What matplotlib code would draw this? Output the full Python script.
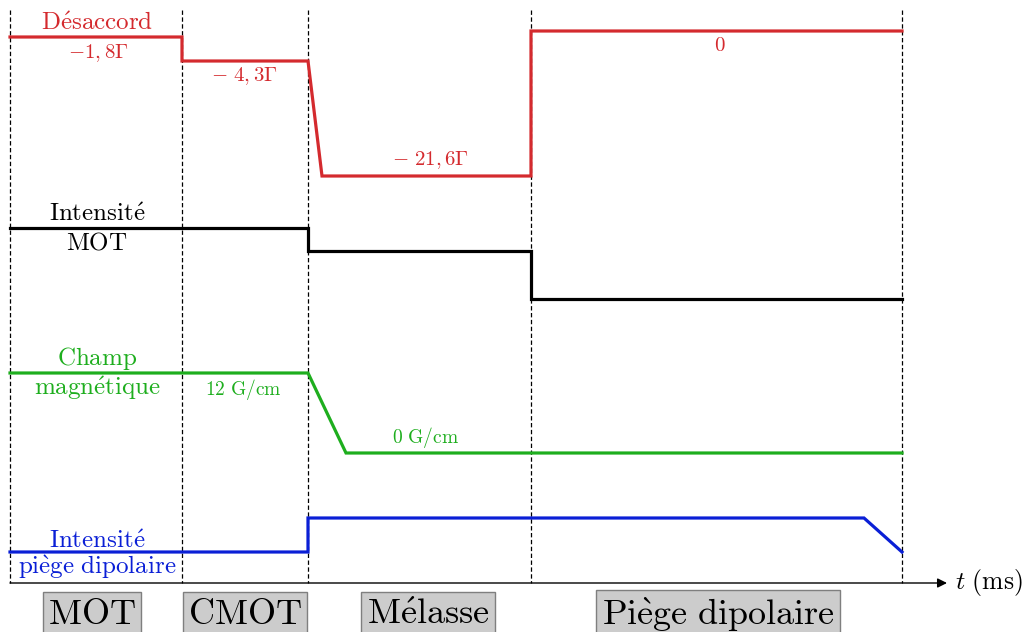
import matplotlib
matplotlib.use("Agg")
import matplotlib.pyplot as plt

plt.rcParams['mathtext.fontset'] = 'cm'

# Phase boundaries (time axis, schematic units)
phase_edges = [10, 182, 308, 531, 902]
phase_names = [r'$\mathrm{MOT}$', r'$\mathrm{CMOT}$', r'$\mathrm{M\acute{e}lasse}$',
               r'$\mathrm{Pi\grave{e}ge\ dipolaire}$']
phase_label_x = [92, 245, 428, 718]

# Traces: time breakpoints and levels (schematic vertical units, downward)
detuning_t = [10, 182, 182, 308, 322, 531, 531, 902]
detuning_y = [37, 37, 61, 61, 176, 176, 31, 31]
mot_int_t = [10, 308, 308, 531, 531, 902]
mot_int_y = [228, 228, 251, 251, 299, 299]
field_t = [10, 308, 346, 902]
field_y = [373, 373, 453, 453]
dip_t = [10, 308, 308, 864, 902]
dip_y = [552, 552, 518, 518, 552]

detuning_labels = [r'$-1,8\Gamma$', r'$-\ 4,3\Gamma$', r'$-\ 21,6\Gamma$', r'$0$']
field_labels = [r'$12\ \mathrm{G/cm}$', r'$0\ \mathrm{G/cm}$']

RED = '#d42a2e'
GREEN = '#1eae1e'
BLUE = '#0a1fd6'

fig = plt.figure(figsize=(10.26, 6.32), dpi=100)
ax = fig.add_axes([0, 0, 1, 1])
ax.set_xlim(0, 1026)
ax.set_ylim(632, 0)
ax.axis('off')

# dashed phase boundaries
for x in phase_edges:
    ax.plot([x, x], [10, 583], color='black', lw=0.9, ls=(0, (3.5, 2)), zorder=1)

# time axis
ax.annotate('', xy=(947, 583), xytext=(10, 583),
            arrowprops=dict(arrowstyle='-|>', color='black', lw=1.0,
                            mutation_scale=14, shrinkA=0, shrinkB=0))
ax.text(955, 582, r'$t\ \mathrm{(ms)}$', fontsize=18.5, va='center', ha='left')

lw = 2.3
ax.plot(detuning_t, detuning_y, color=RED, lw=lw, solid_joinstyle='miter', zorder=3)
ax.plot(mot_int_t, mot_int_y, color='black', lw=lw, solid_joinstyle='miter', zorder=3)
ax.plot(field_t, field_y, color=GREEN, lw=lw, solid_joinstyle='miter', zorder=3)
ax.plot(dip_t, dip_y, color=BLUE, lw=lw, solid_joinstyle='miter', zorder=3)

big = 18
small = 14
det_small = 15
# Detuning
ax.text(97, 23, r'$\mathrm{D\acute{e}saccord}$', color=RED, fontsize=big, ha='center', va='center')
ax.text(98, 53, detuning_labels[0], color=RED, fontsize=det_small, ha='center', va='center')
ax.text(244, 76, detuning_labels[1], color=RED, fontsize=det_small, ha='center', va='center')
ax.text(431, 160, detuning_labels[2], color=RED, fontsize=det_small, ha='center', va='center')
ax.text(720, 45, detuning_labels[3], color=RED, fontsize=det_small, ha='center', va='center')

# MOT intensity
ax.text(97, 214, r'$\mathrm{Intensit\acute{e}}$', color='black', fontsize=big, ha='center', va='center')
ax.text(97, 242, r'$\mathrm{MOT}$', color='black', fontsize=big, ha='center', va='center')

# Magnetic field
ax.text(97, 358, r'$\mathrm{Champ}$', color=GREEN, fontsize=big, ha='center', va='center')
ax.text(97, 388, r'$\mathrm{magn\acute{e}tique}$', color=GREEN, fontsize=big, ha='center', va='center')
ax.text(243, 389, field_labels[0], color=GREEN, fontsize=small, ha='center', va='center')
ax.text(425, 437, field_labels[1], color=GREEN, fontsize=small, ha='center', va='center')

# Dipole trap intensity
ax.text(97, 541, r'$\mathrm{Intensit\acute{e}}$', color=BLUE, fontsize=big, ha='center', va='center')
ax.text(97, 567, r'$\mathrm{pi\grave{e}ge\ dipolaire}$', color=BLUE, fontsize=big, ha='center', va='center')

# Phase boxes
for name, x in zip(phase_names, phase_label_x):
    ax.text(x, 614.5, name, fontsize=26, ha='center', va='center', color='black',
            bbox=dict(boxstyle='square,pad=0.15', facecolor='#cccccc', edgecolor='#7f7f7f', lw=1.0))

fig.savefig('out.png', dpi=100)
